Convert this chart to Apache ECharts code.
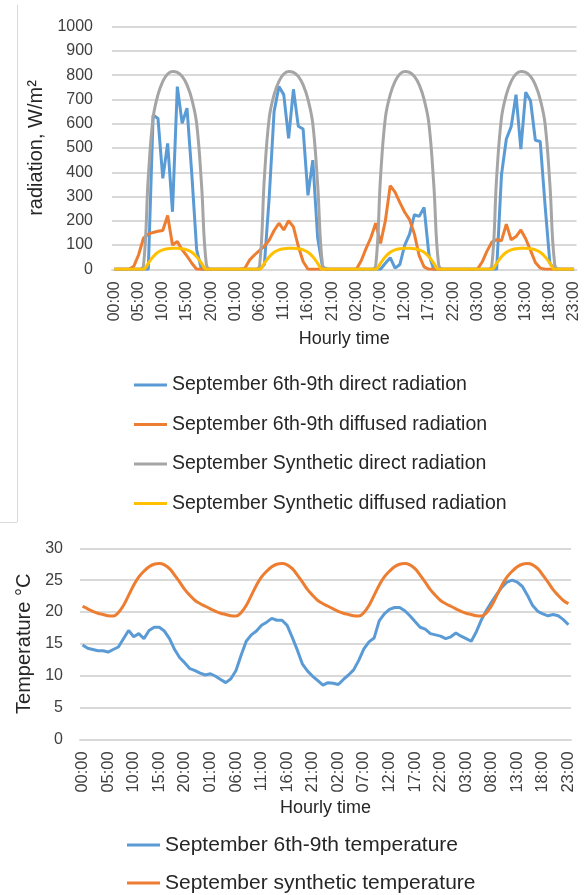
<!DOCTYPE html>
<html>
<head>
<meta charset="utf-8">
<title>September radiation and temperature</title>
<script src="https://cdn.jsdelivr.net/npm/echarts@6.0.0/dist/echarts.min.js"></script>
<style>
  html, body { margin: 0; padding: 0; background: #fff; }
  #chart { width: 587px; height: 895px; }
</style>
</head>
<body>
<div id="chart"></div>
<script>
// hourly categories, 4 days (Sept 6th-9th)
const hours = [
  '00:00','01:00','02:00','03:00','04:00','05:00','06:00','07:00','08:00','09:00','10:00','11:00',
  '12:00','13:00','14:00','15:00','16:00','17:00','18:00','19:00','20:00','21:00','22:00','23:00',
  '00:00','01:00','02:00','03:00','04:00','05:00','06:00','07:00','08:00','09:00','10:00','11:00',
  '12:00','13:00','14:00','15:00','16:00','17:00','18:00','19:00','20:00','21:00','22:00','23:00',
  '00:00','01:00','02:00','03:00','04:00','05:00','06:00','07:00','08:00','09:00','10:00','11:00',
  '12:00','13:00','14:00','15:00','16:00','17:00','18:00','19:00','20:00','21:00','22:00','23:00',
  '00:00','01:00','02:00','03:00','04:00','05:00','06:00','07:00','08:00','09:00','10:00','11:00',
  '12:00','13:00','14:00','15:00','16:00','17:00','18:00','19:00','20:00','21:00','22:00','23:00'
]

// W/m2
const directMeasured = [
  0,0,0,0,0,0,0,0,636,622,375,519,237,753,602,664,390,80,0,0,0,0,0,0,
  0,0,0,0,0,0,0,20,300,650,753,720,540,742,590,578,305,450,130,10,0,0,0,0,
  0,0,0,0,0,0,0,0,25,48,5,20,100,145,225,218,255,60,0,0,0,0,0,0,
  0,0,0,0,0,0,0,0,390,537,588,720,495,730,695,532,527,265,25,0,0,0,0,0
]
const diffuseMeasured = [
  0,0,0,0,12,60,128,145,152,157,160,222,100,115,80,55,25,0,0,0,0,0,0,0,
  0,0,0,5,40,60,78,95,120,160,190,162,200,175,95,32,0,0,0,0,0,0,0,0,
  0,0,0,35,85,130,190,107,200,345,318,275,235,205,145,55,10,0,0,0,0,0,0,0,
  0,0,0,0,30,75,112,122,118,186,122,135,162,126,78,28,5,0,0,0,0,0,0,0
]
const directSynthetic = [
  0,0,0,0,0,0,15,380,625,720,775,805,815,812,795,760,700,600,350,20,0,0,0,0,
  0,0,0,0,0,0,15,380,625,720,775,805,815,812,795,760,700,600,350,20,0,0,0,0,
  0,0,0,0,0,0,15,380,625,720,775,805,815,812,795,760,700,600,350,20,0,0,0,0,
  0,0,0,0,0,0,15,380,625,720,775,805,815,812,795,760,700,600,350,20,0,0,0,0
]
const diffuseSynthetic = [
  0,0,0,0,0,0,0,25,52,70,80,85,87,87,85,80,70,52,25,0,0,0,0,0,
  0,0,0,0,0,0,0,25,52,70,80,85,87,87,85,80,70,52,25,0,0,0,0,0,
  0,0,0,0,0,0,0,25,52,70,80,85,87,87,85,80,70,52,25,0,0,0,0,0,
  0,0,0,0,0,0,0,25,52,70,80,85,87,87,85,80,70,52,25,0,0,0,0,0
]

// deg C
const tempMeasured = [
  14.8,14.3,14.1,13.9,13.9,13.7,14.1,14.5,15.8,17.1,16.1,16.6,15.8,17.1,17.6,17.6,17.0,15.8,14.1,12.8,12.0,11.1,10.8,10.4,
  10.1,10.3,9.9,9.4,8.9,9.5,10.8,13.2,15.4,16.4,17.0,17.9,18.4,19.0,18.7,18.7,17.9,16.0,14.0,11.8,10.7,9.9,9.2,8.5,
  8.9,8.8,8.6,9.4,10.1,10.9,12.4,14.2,15.3,15.9,18.6,19.7,20.4,20.7,20.7,20.2,19.4,18.5,17.6,17.3,16.6,16.4,16.2,15.8,
  16.1,16.7,16.2,15.8,15.4,16.9,18.8,20.3,21.6,22.8,23.9,24.7,25.0,24.7,24.0,22.6,21.0,20.1,19.7,19.4,19.6,19.4,18.8,18.0
]
const tempSynthetic = [
  20.9,20.5,20.1,19.8,19.6,19.4,19.35,19.9,21.0,22.6,24.2,25.5,26.4,27.1,27.5,27.6,27.4,26.8,25.8,24.7,23.5,22.6,21.8,21.3,
  20.9,20.5,20.1,19.8,19.6,19.4,19.35,19.9,21.0,22.6,24.2,25.5,26.4,27.1,27.5,27.6,27.4,26.8,25.8,24.7,23.5,22.6,21.8,21.3,
  20.9,20.5,20.1,19.8,19.6,19.4,19.35,19.9,21.0,22.6,24.2,25.5,26.4,27.1,27.5,27.6,27.4,26.8,25.8,24.7,23.5,22.6,21.8,21.3,
  20.9,20.5,20.1,19.8,19.6,19.4,19.35,19.9,21.0,22.6,24.2,25.5,26.4,27.1,27.5,27.6,27.4,26.8,25.8,24.7,23.5,22.6,21.8,21.3
]

const FONT = '"Liberation Sans", Arial, sans-serif'
const TICK = '#404040'
const GRIDLINE = '#d9d9d9'
const BLUE = '#5b9bd5', ORANGE = '#ed7d31', GRAY = '#a5a5a5', YELLOW = '#ffc000'

const chart = echarts.init(document.getElementById('chart'), null, { renderer: 'canvas' })

const xAxisFor = (gridIndex, labelSize, nameGap) => ({
  type: 'category',
  gridIndex,
  data: hours,
  name: 'Hourly time',
  nameLocation: 'middle',
  nameGap,
  nameTextStyle: { fontFamily: FONT, fontSize: 18, color: '#262626' },
  axisLine: { show: true, lineStyle: { color: GRIDLINE, width: 2 } },
  axisTick: { show: false },
  axisLabel: {
    interval: 4,
    rotate: 90,
    margin: 12,
    fontFamily: FONT,
    fontSize: labelSize,
    color: TICK,
  },
  splitLine: { show: false },
})

const line = (name, data, color, xi, smooth) => ({
  name,
  type: 'line',
  data,
  xAxisIndex: xi,
  yAxisIndex: xi,
  smooth: smooth ? 0.4 : false,
  symbol: 'none',
  showSymbol: false,
  lineStyle: { color, width: 3 },
  itemStyle: { color },
  emphasis: { disabled: true },
})

chart.setOption({
  animation: false,
  textStyle: { fontFamily: FONT },
  grid: [
    { left: 112, right: 10.5, top: 26.7, height: 242.6 },
    { left: 80, right: 16, top: 548.3, height: 191 },
  ],
  xAxis: [xAxisFor(0, 16, 61), xAxisFor(1, 16.5, 60)],
  yAxis: [
    {
      type: 'value',
      gridIndex: 0,
      min: 0,
      max: 1000,
      interval: 100,
      name: 'radiation, W/m²',
      nameLocation: 'middle',
      nameRotate: 90,
      nameGap: 61,
      nameTextStyle: { fontFamily: FONT, fontSize: 20, color: '#262626' },
      axisLine: { show: false },
      axisTick: { show: false },
      axisLabel: { margin: 19, fontFamily: FONT, fontSize: 16, color: TICK, formatter: v => String(v) },
      splitLine: { lineStyle: { color: GRIDLINE, width: 2 } },
    },
    {
      type: 'value',
      gridIndex: 1,
      min: 0,
      max: 30,
      interval: 5,
      name: 'Temperature °C',
      nameLocation: 'middle',
      nameRotate: 90,
      nameGap: 42,
      nameTextStyle: { fontFamily: FONT, fontSize: 20, color: '#262626' },
      axisLine: { show: false },
      axisTick: { show: false },
      axisLabel: { margin: 17, fontFamily: FONT, fontSize: 16, color: TICK, formatter: v => String(v) },
      splitLine: { lineStyle: { color: GRIDLINE, width: 2 } },
    },
  ],
  legend: [
    {
      data: [
        'September 6th-9th direct radiation',
        'September 6th-9th diffused radiation',
        'September Synthetic direct radiation',
        'September Synthetic diffused radiation',
      ],
      orient: 'vertical',
      left: 134,
      top: 375,
      padding: 0,
      icon: 'rect',
      itemWidth: 33,
      itemHeight: 3,
      itemGap: 19.5,
      selectedMode: false,
      textStyle: { fontFamily: FONT, fontSize: 19.5, lineHeight: 20, color: '#262626' },
    },
    {
      data: ['September 6th-9th temperature', 'September synthetic temperature'],
      orient: 'vertical',
      left: 127,
      top: 834,
      padding: 0,
      icon: 'rect',
      itemWidth: 33,
      itemHeight: 3,
      itemGap: 16,
      selectedMode: false,
      textStyle: { fontFamily: FONT, fontSize: 21, lineHeight: 22, color: '#262626' },
    },
  ],
  // faint frame edge at the left of the upper picture
  graphic: [
    { type: 'line', shape: { x1: 17.5, y1: 5, x2: 17.5, y2: 522 }, style: { stroke: '#d9d9d9', lineWidth: 1 } },
    { type: 'line', shape: { x1: 0, y1: 522.5, x2: 17, y2: 522.5 }, style: { stroke: '#d9d9d9', lineWidth: 1 } },
  ],
  series: [
    line('September 6th-9th direct radiation', directMeasured, BLUE, 0, false),
    line('September 6th-9th diffused radiation', diffuseMeasured, ORANGE, 0, false),
    line('September Synthetic direct radiation', directSynthetic, GRAY, 0, true),
    line('September Synthetic diffused radiation', diffuseSynthetic, YELLOW, 0, true),
    line('September 6th-9th temperature', tempMeasured, BLUE, 1, false),
    line('September synthetic temperature', tempSynthetic, ORANGE, 1, true),
  ],
})
</script>
</body>
</html>
